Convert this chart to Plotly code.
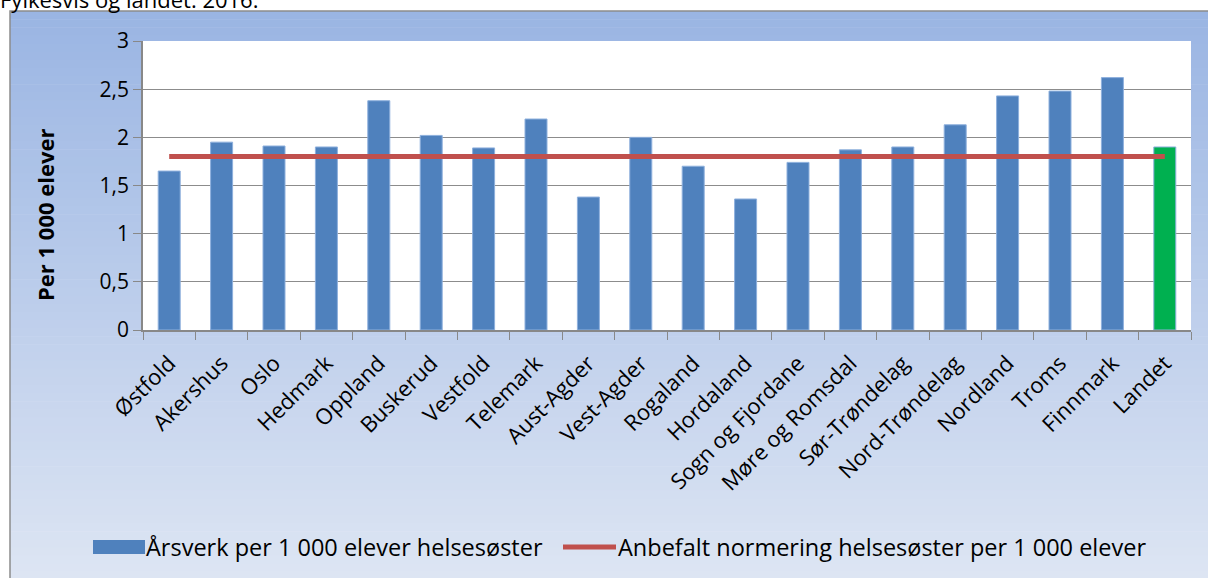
import plotly.graph_objects as go

categories = ["Østfold", "Akershus", "Oslo", "Hedmark", "Oppland", "Buskerud", "Vestfold",
              "Telemark", "Aust-Agder", "Vest-Agder", "Rogaland", "Hordaland",
              "Sogn og Fjordane", "Møre og Romsdal", "Sør-Trøndelag", "Nord-Trøndelag",
              "Nordland", "Troms", "Finnmark", "Landet"]
aarsverk = [1.65, 1.95, 1.91, 1.90, 2.38, 2.02, 1.89, 2.19, 1.38, 2.00, 1.70, 1.36,
            1.74, 1.87, 1.90, 2.13, 2.43, 2.48, 2.62, 1.90]
anbefalt = [1.8] * len(categories)
bar_colors = ["#4F81BD"] * (len(categories) - 1) + ["#00B050"]
y_ticks = [0, 0.5, 1, 1.5, 2, 2.5, 3]
y_ticklabels = ["0", "0,5", "1", "1,5", "2", "2,5", "3"]
name_bar = "Årsverk per 1 000 elever helsesøster"
name_line = "Anbefalt normering helsesøster per 1 000 elever"
subtitle = "Fylkesvis og landet. 2016."

FONT = "Open Sans, Noto Sans, sans-serif"

fig = go.Figure()
fig.add_trace(go.Bar(
    x=categories, y=aarsverk, name=name_bar,
    marker=dict(color=bar_colors, line=dict(color="#8EB0DD", width=1)),
    width=0.42, showlegend=False,
))
fig.add_trace(go.Scatter(
    x=categories, y=anbefalt, mode="lines", name=name_line,
    line=dict(color="#C0504D", width=5), showlegend=False,
))

# Plot-area geometry (pixels)
L, R, T, B = 143, 1191, 41, 330
W, H = R - L, B - T
def px_x(p): return (p - L) / W
def px_y(p): return (B - p) / H

# gradient background frame made of strips
top_c = (0x9A, 0xB5, 0xE3)
bot_c = (0xDD, 0xE5, 0xF3)
y_top, y_bot = 11, 580
n = 70
shapes = []
for i in range(n):
    t = i / (n - 1)
    c = tuple(int(round(top_c[k] + (bot_c[k] - top_c[k]) * t)) for k in range(3))
    y0 = y_top + (y_bot - y_top) * i / n
    y1 = y_top + (y_bot - y_top) * (i + 1) / n + 0.6
    shapes.append(dict(type="rect", xref="paper", yref="paper", layer="below",
                       x0=px_x(10), x1=px_x(1212), y0=px_y(y1), y1=px_y(y0),
                       fillcolor="rgb(%d,%d,%d)" % c, line=dict(width=0)))
# frame border
shapes.append(dict(type="rect", xref="paper", yref="paper", layer="below",
                   x0=px_x(10), x1=px_x(1214), y0=px_y(584), y1=px_y(11),
                   fillcolor="rgba(0,0,0,0)", line=dict(color="#8C8C8C", width=1.5)))
# white plot area
shapes.append(dict(type="rect", xref="paper", yref="paper", layer="below",
                   x0=0, x1=1, y0=0, y1=1, fillcolor="white", line=dict(width=0)))
# custom legend symbols
shapes.append(dict(type="rect", xref="paper", yref="paper",
                   x0=px_x(93), x1=px_x(145), y0=px_y(554), y1=px_y(540),
                   fillcolor="#4F81BD", line=dict(width=0)))
shapes.append(dict(type="line", xref="paper", yref="paper",
                   x0=px_x(563), x1=px_x(616), y0=px_y(547), y1=px_y(547),
                   line=dict(color="#C0504D", width=5)))

fig.update_layout(
    width=1208, height=578,
    margin=dict(l=L, r=1208 - R, t=T, b=578 - B),
    paper_bgcolor="white", plot_bgcolor="rgba(0,0,0,0)",
    font=dict(family=FONT, color="black"),
    shapes=shapes,
    showlegend=False,
    annotations=[
        dict(text="<b>Per 1 000 elever</b>", xref="paper", yref="paper",
             x=px_x(45), y=px_y(215), textangle=-90, showarrow=False,
             font=dict(size=22, family=FONT), xanchor="center", yanchor="middle"),
        dict(text=subtitle, xref="paper", yref="paper",
             x=px_x(-2), y=px_y(-1), xanchor="left", yanchor="middle", showarrow=False,
             font=dict(size=22, family=FONT)),
        dict(text=name_bar, xref="paper", yref="paper",
             x=px_x(144), y=px_y(547), xanchor="left", yanchor="middle", showarrow=False,
             font=dict(size=23.5, family=FONT)),
        dict(text=name_line, xref="paper", yref="paper",
             x=px_x(616), y=px_y(547), xanchor="left", yanchor="middle", showarrow=False,
             font=dict(size=23.5, family=FONT)),
    ],
)
fig.update_xaxes(
    type="category", tickangle=-45, tickfont=dict(size=22, family=FONT),
    ticks="outside", tickson="boundaries", ticklen=8, tickcolor="#888888",
    ticklabelstandoff=10,
    showline=True, linecolor="#888888", linewidth=1.5, showgrid=False,
)
fig.update_yaxes(
    range=[0, 3], tickvals=y_ticks, ticktext=y_ticklabels,
    tickfont=dict(size=21, family=FONT), ticks="outside", ticklen=8, tickcolor="#888888",
    showgrid=True, gridcolor="#8C8C8C", gridwidth=1.2,
    showline=True, linecolor="#888888", linewidth=1.5, zeroline=False,
)

fig.write_html("out.html", config={"displayModeBar": False},
               post_script="document.body.style.margin='0';")
